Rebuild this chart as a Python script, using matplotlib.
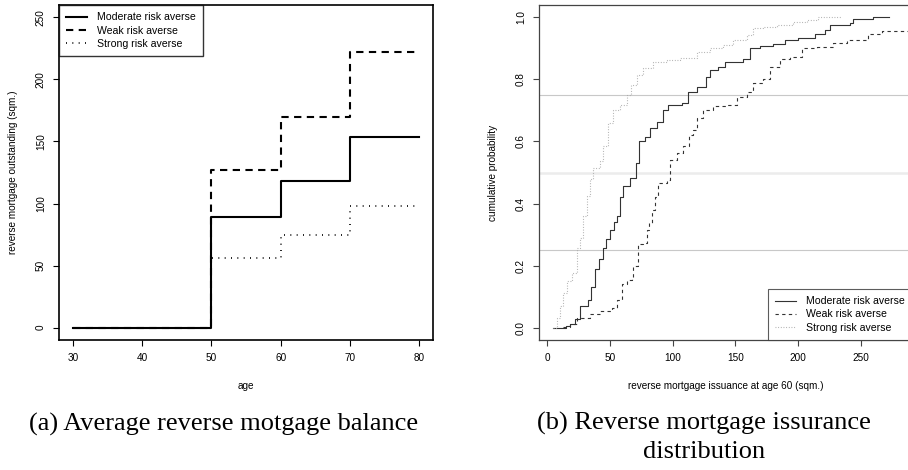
import numpy as np
import matplotlib
matplotlib.use("Agg")
import matplotlib.pyplot as plt

plt.rcParams['font.family'] = ['Liberation Sans', 'DejaVu Sans']

# (a) average reverse mortgage balance by age
ages = [30, 40, 50, 60, 70, 80]
moderate_bal = [0, 0, 89, 118, 154, 154]
weak_bal = [0, 0, 127, 170, 222, 222]
strong_bal = [0, 0, 56, 75, 98, 98]

# (b) empirical cdf of issuance at age 60, step positions and levels
mod_x = [4.8, 15, 18, 22, 26, 32.7, 35, 38, 41, 44.7, 47, 50, 53, 55.4, 58, 60.7, 66, 70.5, 73.2,
         78, 82, 87.3, 92.6, 96.5, 107.2, 112.5, 119.2, 127, 130, 136.5, 141.8, 156.4, 161.7,
         169.7, 180.3, 189.7, 200.3, 213.6, 221.6, 225.6, 241.5, 243.7, 260]
mod_f = [0.0, 0.005, 0.012, 0.027, 0.07, 0.09, 0.13, 0.19, 0.22, 0.257, 0.285, 0.316, 0.34, 0.359, 0.42,
         0.455, 0.482, 0.53, 0.6, 0.616, 0.643, 0.662, 0.702, 0.718, 0.723, 0.761, 0.775, 0.809,
         0.831, 0.841, 0.857, 0.865, 0.9, 0.909, 0.913, 0.927, 0.935, 0.948, 0.961, 0.975,
         0.982, 0.994, 1.0]
mod_end = 273

weak_x = [12.8, 18, 23.4, 34, 42, 51.4, 55.4, 59.4, 63.4, 67.3, 68.6, 72.6, 76.6, 79.3, 81, 83.3,
          86, 88.6, 95.3, 97.9, 103.2, 108.5, 113.3, 116.5, 119.7, 124.5, 132.5, 143.1, 151.1,
          159.1, 164.4, 172.4, 177.7, 185.7, 193.7, 203, 215, 228.2, 238.9, 256.1, 266.8]
weak_f = [0.002, 0.01, 0.032, 0.043, 0.053, 0.064, 0.09, 0.139, 0.155, 0.16, 0.198, 0.268, 0.273,
          0.316, 0.338, 0.38, 0.42, 0.466, 0.477, 0.541, 0.563, 0.584, 0.622, 0.638, 0.675,
          0.702, 0.713, 0.718, 0.745, 0.761, 0.788, 0.8, 0.841, 0.865, 0.873, 0.9, 0.906,
          0.917, 0.927, 0.945, 0.956]
weak_end = 300

strong_x = [4.5, 7.5, 10, 12.8, 16, 19.5, 23.4, 26, 28.5, 31.4, 34, 36.7, 42, 44.7, 48.7, 52.7, 58,
            63.4, 66.5, 71.3, 76.6, 84.6, 95.3, 105.9, 119.2, 129.8, 140.4, 148.4, 159.1,
            164.4, 172.4, 183, 196.3, 207, 216.2]
strong_f = [0.0, 0.032, 0.07, 0.113, 0.15, 0.177, 0.257, 0.29, 0.36, 0.423, 0.48, 0.514, 0.536,
            0.584, 0.659, 0.702, 0.718, 0.75, 0.782, 0.814, 0.836, 0.857, 0.863, 0.868, 0.888,
            0.9, 0.911, 0.927, 0.943, 0.965, 0.97, 0.975, 0.986, 0.991, 1.0]
strong_end = 235

labels = ['Moderate risk averse', 'Weak risk averse', 'Strong risk averse']
quantile_lines = [0.25, 0.5, 0.75]

W, H = 908, 470
fig = plt.figure(figsize=(W / 100, H / 100), dpi=100)


def box(x0, y0, x1, y1):
    return [x0 / W, 1 - y1 / H, (x1 - x0) / W, (y1 - y0) / H]


def r_axis_style(ax, col='black', lw=1.0):
    ax.tick_params(direction='out', length=4.5, width=0.8, labelsize=7.2, color=col, pad=5)
    ax.tick_params(axis='y', labelrotation=90)
    for s in ax.spines.values():
        s.set_linewidth(lw)
        s.set_color(col)


legend_kw = dict(fontsize=7.6, frameon=True, fancybox=False, borderaxespad=0,
                 handlelength=1.95, handletextpad=0.95, labelspacing=0.3, borderpad=0.7)

# left panel
ax1 = fig.add_axes(box(59, 5, 433, 340))
ax1.plot(ages, moderate_bal, drawstyle='steps-post', color='black', lw=1.5, label=labels[0])
ax1.plot(ages, weak_bal, drawstyle='steps-post', color='black', lw=1.5,
         dashes=(3.5, 2.6), label=labels[1])
ax1.plot(ages, strong_bal, drawstyle='steps-post', color='black', lw=1.2,
         dashes=(0.6, 3.2), label=labels[2])
ax1.set_xlim(28, 82)
ax1.set_ylim(-10, 260)
ax1.set_xticks([30, 40, 50, 60, 70, 80])
ax1.set_yticks([0, 50, 100, 150, 200, 250])
r_axis_style(ax1, lw=1.2)
for lab in ax1.get_yticklabels():
    lab.set_va('center')
ax1.set_xlabel('age', fontsize=7.2, labelpad=13)
ax1.set_ylabel('reverse mortgage outstanding (sqm.)', fontsize=7.2, labelpad=13)
leg1 = ax1.legend(loc='upper left', **legend_kw)
leg1.get_frame().set_edgecolor('black')
leg1.get_frame().set_linewidth(1.0)

# right panel
ax2 = fig.add_axes(box(539, 5, 912, 340))
for q, c, w in zip(quantile_lines, ['#c8c8c8', '#ececec', '#c8c8c8'], [0.8, 1.8, 0.8]):
    ax2.axhline(q, color=c, lw=w, zorder=1)
ax2.plot(mod_x + [mod_end], mod_f + [mod_f[-1]], drawstyle='steps-post',
         color='#333333', lw=0.8, label=labels[0])
ax2.plot(weak_x + [weak_end], weak_f + [weak_f[-1]], drawstyle='steps-post',
         color='#333333', lw=0.8, dashes=(3, 3), label=labels[1])
ax2.plot(strong_x + [strong_end], strong_f + [strong_f[-1]], drawstyle='steps-post',
         color='#aaaaaa', lw=0.8, dashes=(0.8, 1.6), label=labels[2])
ax2.set_xlim(-6.6, 291)
ax2.set_ylim(-0.04, 1.04)
ax2.set_xticks([0, 50, 100, 150, 200, 250])
ax2.set_yticks([0.0, 0.2, 0.4, 0.6, 0.8, 1.0])
ax2.set_yticklabels(['0.0', '0.2', '0.4', '0.6', '0.8', '1.0'])
r_axis_style(ax2, col='#444444', lw=0.9)
for lab in ax2.get_yticklabels():
    lab.set_va('center')
ax2.set_xlabel('reverse mortgage issuance at age 60 (sqm.)', fontsize=7.2, labelpad=13)
ax2.set_ylabel('cumulative probability', fontsize=7.2, labelpad=13)
leg2 = ax2.legend(loc='lower left', bbox_to_anchor=(768 / W, 1 - 340 / H),
                  bbox_transform=fig.transFigure, **legend_kw)
leg2.get_frame().set_edgecolor('#333333')
leg2.get_frame().set_linewidth(0.8)

# captions
serif = ['Liberation Serif', 'DejaVu Serif']
fig.text(224 / W, 1 - 424 / H, '(a) Average reverse motgage balance', family=serif,
         fontsize=19, ha='center', va='center')
fig.text(704 / W, 1 - 423 / H, '(b) Reverse mortgage issurance', family=serif,
         fontsize=19, ha='center', va='center')
fig.text(704 / W, 1 - 452 / H, 'distribution', family=serif,
         fontsize=19, ha='center', va='center')

fig.savefig('out.png', dpi=100)
